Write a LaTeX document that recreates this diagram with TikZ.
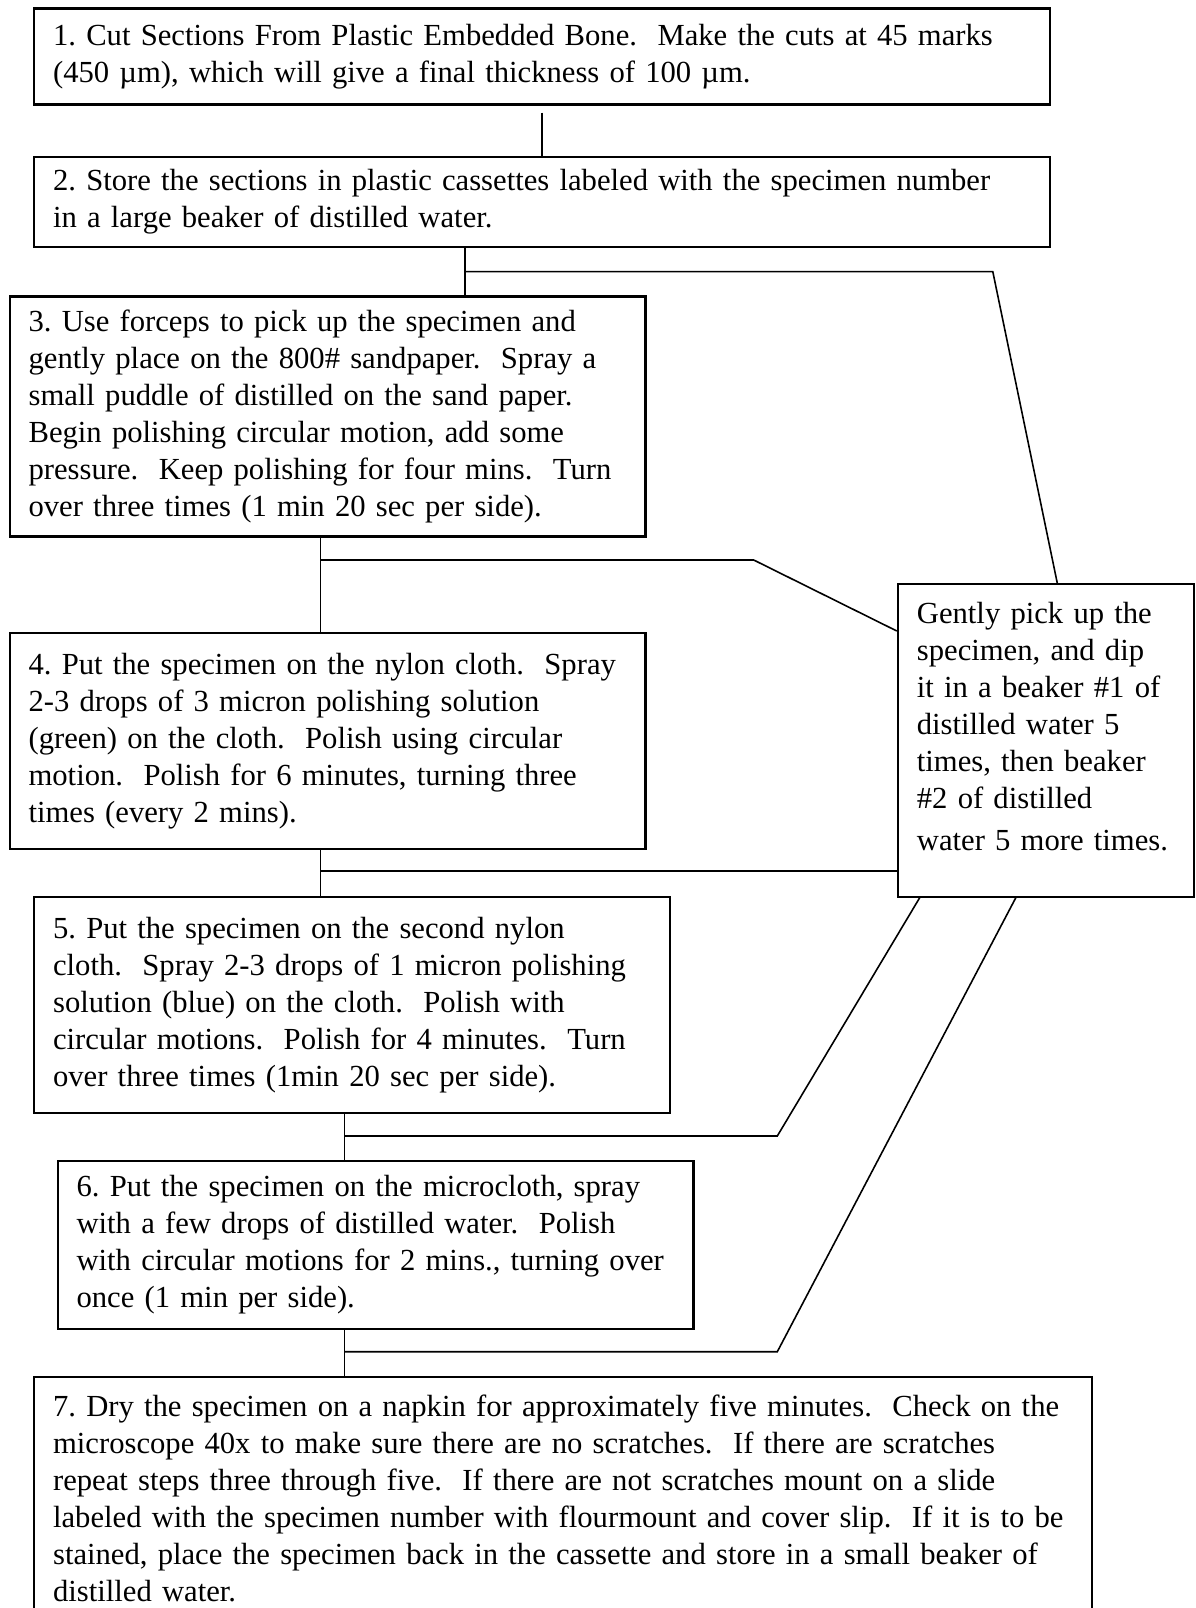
\documentclass[tikz,border=0pt]{standalone}
\usepackage{fontspec}
\setmainfont{Liberation Serif}
\usepackage{tikz}
\newdimen\pix \pix=0.3785pt
\frenchspacing

\begin{document}
\begin{tikzpicture}[x=0.3785pt, y=-0.3785pt]
		\tikzset{stepbox/.style = {shape=rectangle, draw, line width=0.8pt, anchor=north west, align=left, inner xsep=7.2pt, inner ysep=0pt, font=\fontsize{11.6}{14}\selectfont}, link/.style={draw=black, line width=0.6pt}}
		\useasboundingbox (0, 0) rectangle (1195, 1608);
		\node[stepbox, text width=370.2pt, minimum height=36.3pt] (1) at (33, 7.5) {1. Cut Sections From Plastic Embedded Bone.~ Make the cuts at 45 marks\\(450 µm), which will give a final thickness of 100 µm.};
		\node[stepbox, text width=370.2pt, minimum height=34.1pt] (2) at (33, 156) {2. Store the sections in plastic cassettes labeled with the specimen number\\in a large beaker of distilled water.};
		\node[stepbox, text width=226.3pt, minimum height=90.8pt] (3) at (8.5, 295.5) {3. Use forceps to pick up the specimen and\\gently place on the 800\# sandpaper.~ Spray a\\small puddle of distilled on the sand paper.\\Begin polishing circular motion, add some\\pressure.~ Keep polishing for four mins.~ Turn\\over three times (1 min 20 sec per side).};
		\node[stepbox, text width=226.3pt, minimum height=81.8pt] (4) at (8.5, 631.7) {\mbox{4. Put the specimen on the nylon cloth.~ Spray}\\2-3 drops of 3 micron polishing solution\\(green) on the cloth.~ Polish using circular\\motion.~ Polish for 6 minutes, turning three\\times (every 2 mins).};
		\node[stepbox, text width=226.3pt, minimum height=81.8pt] (5) at (33, 895.7) {5. Put the specimen on the second nylon\\cloth.~ Spray 2-3 drops of 1 micron polishing\\solution (blue) on the cloth.~ Polish with\\circular motions.~ Polish for 4 minutes.~ Turn\\over three times (1min 20 sec per side).};
		\node[stepbox, text width=226.3pt, minimum height=63.5pt] (6) at (56.5, 1160) {6. Put the specimen on the microcloth, spray\\with a few drops of distilled water.~ Polish\\with circular motions for 2 mins., turning over\\once (1 min per side).};
		\node[stepbox, text width=385.9pt, minimum height=92.2pt] (7) at (33, 1375.7) {7. Dry the specimen on a napkin for approximately five minutes.~ Check on the\\microscope 40x to make sure there are no scratches.~ If there are scratches\\repeat steps three through five.~ If there are not scratches mount on a slide\\labeled with the specimen number with flourmount and cover slip.~ If it is to be\\stained, place the specimen back in the cassette and store in a small beaker of\\distilled water.};
		\node[stepbox, text width=97.6pt, minimum height=118.2pt] (dip) at (896.8, 583.3) {Gently pick up the\\specimen, and dip\\it in a beaker \#1 of\\distilled water 5\\times, then beaker\\\#2 of distilled\\[2pt]water 5 more times.\\[-3.1pt]\mbox{}};
		\coordinate (b2) at (465, 271.7);
		\coordinate (k2) at (992.8, 271.7);
		\coordinate (b3) at (320.7, 560);
		\coordinate (k3) at (753.7, 560);
		\coordinate (b4) at (320.7, 871);
		\coordinate (b5) at (344.4, 1136);
		\coordinate (k5) at (777.3, 1136);
		\coordinate (b6) at (344.4, 1351.7);
		\coordinate (k6) at (777.3, 1351.7);
		%edges
		\draw[link] ([yshift=-7\pix]1.south) -- (2.north);
		\draw[link] (2.south -| b2) -- (3.north -| b2);
		\draw[link] (b2) -- (k2) -- ([xshift=160.5\pix]dip.north west);
		\draw[link] (3.south -| b3) -- (4.north -| b3);
		\draw[link] (b3) -- (k3) -- ([yshift=-47.7\pix]dip.north west);
		\draw[link] (4.south -| b4) -- (5.north -| b4);
		\draw[link] (b4) -- (dip.west |- b4);
		\draw[link] (5.south -| b5) -- (6.north -| b5);
		\draw[link] (b5) -- (k5) -- ([xshift=22.9\pix]dip.south west);
		\draw[link] (6.south -| b6) -- (7.north -| b6);
		\draw[link] (b6) -- (k6) -- ([xshift=119\pix]dip.south west);
\end{tikzpicture}
\end{document}
